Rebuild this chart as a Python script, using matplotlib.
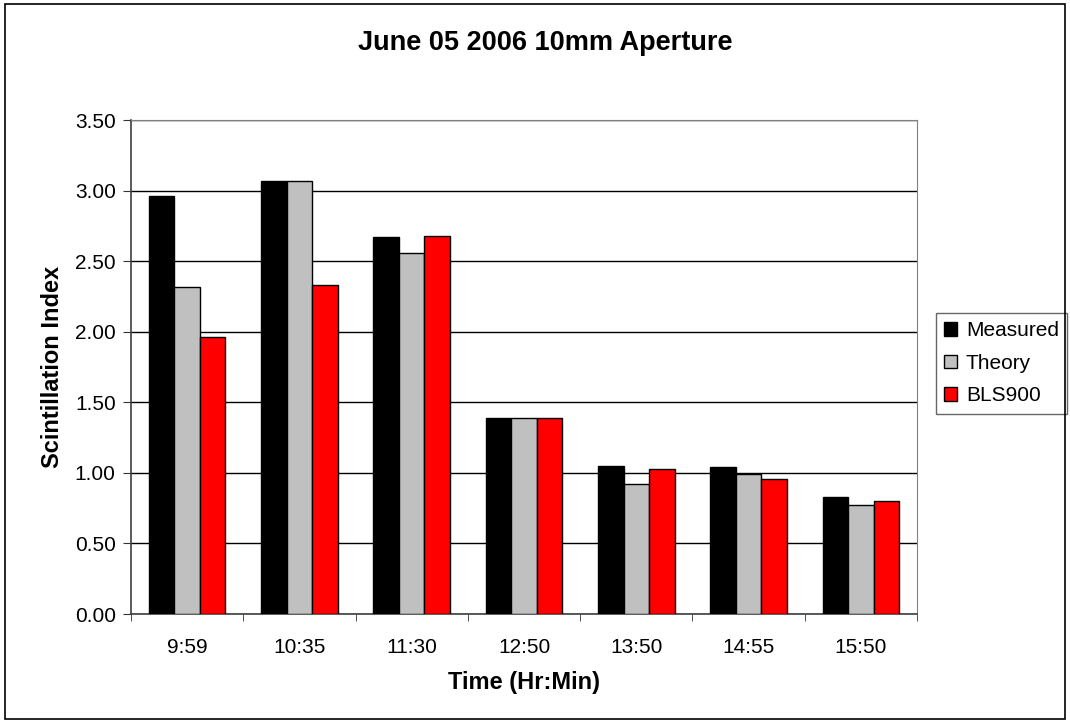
import numpy as np
import matplotlib
matplotlib.use("Agg")
import matplotlib.pyplot as plt
from matplotlib.patches import Rectangle

plt.rcParams["font.family"] = ["Liberation Sans", "DejaVu Sans"]

# ---- data ----
times = ["9:59", "10:35", "11:30", "12:50", "13:50", "14:55", "15:50"]
measured = [2.96, 3.07, 2.67, 1.39, 1.05, 1.04, 0.83]
theory = [2.32, 3.07, 2.56, 1.39, 0.92, 0.995, 0.77]
bls900 = [1.96, 2.33, 2.68, 1.39, 1.03, 0.96, 0.80]

series = [("Measured", measured, "#000000"),
          ("Theory", theory, "#C0C0C0"),
          ("BLS900", bls900, "#FF0000")]

W, H = 1070, 723
fig = plt.figure(figsize=(W / 100, H / 100), dpi=100)
# plot area: x 131..917, y 120..614 px
ax = fig.add_axes([131 / W, 1 - 614 / H, (917 - 131) / W, (614 - 120) / H])

x = np.arange(len(times))
w = 0.227
for i, (name, vals, col) in enumerate(series):
    ax.bar(x + (i - 1) * w, vals, width=w, color=col, edgecolor="black",
           linewidth=1.0, label=name, zorder=3)

yt = np.arange(0, 3.51, 0.5)
ax.set_xlim(-0.5, len(times) - 0.5)
ax.set_ylim(0, 3.5)
ax.set_yticks(yt)
ax.set_yticklabels([f"{v:.2f}" for v in yt], fontsize=15)
ax.set_xticks(x)
ax.set_xticklabels(times, fontsize=15)
ax.set_xticks(np.arange(-0.5, len(times), 1.0), minor=True)
ax.tick_params(axis="x", which="major", length=0, pad=17)
ax.tick_params(axis="x", which="minor", length=5, direction="out", color="#333333")
ax.tick_params(axis="y", length=6, direction="out", color="#333333", pad=5)
ax.yaxis.grid(True, color="black", linewidth=1.0, zorder=0)
ax.set_axisbelow(True)

for s in ["top", "right"]:
    ax.spines[s].set_color("#808080")
for s in ["left", "bottom"]:
    ax.spines[s].set_color("#404040")
    ax.spines[s].set_linewidth(1.2)

fig.text(524 / W, 1 - 683 / H, "Time (Hr:Min)", ha="center", va="center",
         fontsize=17, fontweight="bold")
fig.text(53 / W, 1 - 367 / H, "Scintillation Index", ha="center", va="center",
         rotation=90, fontsize=17, fontweight="bold")
fig.text(545 / W, 1 - 43 / H, "June 05 2006 10mm Aperture", ha="center", va="center",
         fontsize=19.5, fontweight="bold")

leg = ax.legend(loc="upper left", bbox_to_anchor=(936 / W, 1 - 313 / H),
                bbox_transform=fig.transFigure, fontsize=15,
                frameon=True, fancybox=False, borderpad=0.4, labelspacing=0.65,
                handlelength=0.63, handleheight=0.63, handletextpad=0.4,
                borderaxespad=0)
leg.get_frame().set_edgecolor("#404040")
leg.get_frame().set_linewidth(1.0)

# outer chart border
fig.patches.append(Rectangle((0.005, 0.006), 0.99, 0.988, transform=fig.transFigure,
                             fill=False, edgecolor="black", linewidth=1.2))

fig.savefig("out.png", dpi=100)
